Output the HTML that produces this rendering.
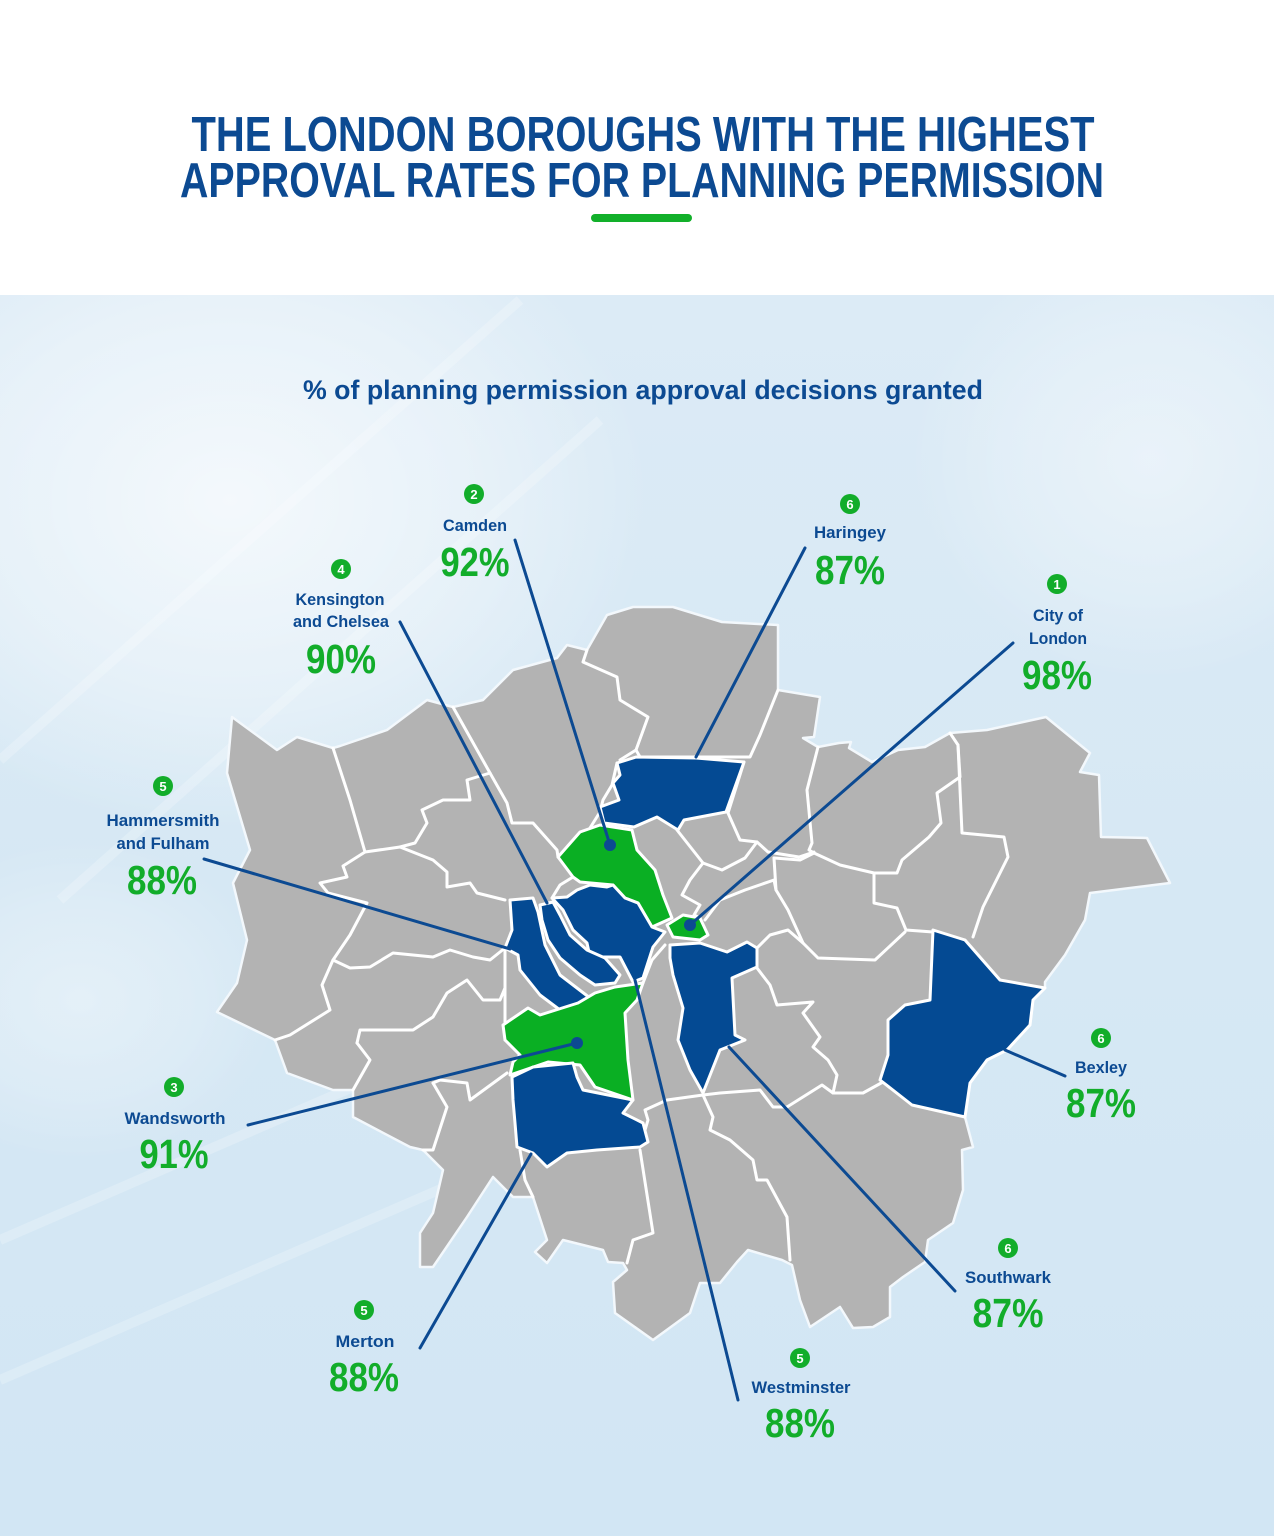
<!DOCTYPE html>
<html><head><meta charset="utf-8"><style>
html,body{margin:0;padding:0;background:#fff;}
svg{display:block;}
text{font-family:"Liberation Sans",Arial,sans-serif;font-weight:bold;}
</style></head><body>
<svg width="1274" height="1536" viewBox="0 0 1274 1536" xmlns="http://www.w3.org/2000/svg">
<defs>
<linearGradient id="bg" x1="0" y1="0" x2="0" y2="1">
<stop offset="0" stop-color="#dcebf6"/><stop offset="0.5" stop-color="#d6e8f4"/><stop offset="1" stop-color="#d2e6f4"/>
</linearGradient>
<radialGradient id="wl" cx="0.5" cy="0.5" r="0.5">
<stop offset="0" stop-color="#ffffff" stop-opacity="0.7"/><stop offset="0.6" stop-color="#ffffff" stop-opacity="0.35"/><stop offset="1" stop-color="#ffffff" stop-opacity="0"/>
</radialGradient>
</defs>
<rect x="0" y="0" width="1274" height="295" fill="#ffffff"/>
<rect x="0" y="295" width="1274" height="1241" fill="url(#bg)"/>
<ellipse cx="230" cy="500" rx="420" ry="330" fill="url(#wl)"/>
<ellipse cx="1150" cy="460" rx="240" ry="220" fill="url(#wl)" opacity="0.6"/>
<ellipse cx="80" cy="1000" rx="200" ry="160" fill="url(#wl)" opacity="0.5"/>
<g stroke="#ffffff" stroke-opacity="0.22" stroke-width="10" fill="none">
<line x1="0" y1="760" x2="520" y2="300"/>
<line x1="60" y1="900" x2="600" y2="420"/>
<line x1="0" y1="1240" x2="600" y2="980"/>
<line x1="0" y1="1380" x2="600" y2="1120"/>
</g>

<!-- Title -->
<text x="643" y="151" font-size="49" fill="#0c4a92" text-anchor="middle" textLength="903" lengthAdjust="spacingAndGlyphs">THE LONDON BOROUGHS WITH THE HIGHEST</text>
<text x="642" y="197" font-size="49" fill="#0c4a92" text-anchor="middle" textLength="924" lengthAdjust="spacingAndGlyphs">APPROVAL RATES FOR PLANNING PERMISSION</text>
<rect x="591" y="214" width="101" height="8" rx="4" fill="#12b02a"/>

<text x="643" y="399" font-size="27" fill="#0c4a92" text-anchor="middle" textLength="680" lengthAdjust="spacingAndGlyphs">% of planning permission approval decisions granted</text>

<!-- Map -->
<g stroke-linejoin="round" stroke-linecap="round">
<polygon fill="#b3b3b3" stroke="#f3f8fc" stroke-width="2.5" points="232,717 277,750 297,737 333,748 340,746 387,730 427,700 453,707 483,700 513,670 557,658 567,645 587,650 607,615 633,607 673,607 722,622 778,625 778,690 820,697 814,737 803,738 818,747 839,743 851,742 849,748 872,762 898,750 925,747 950,733 987,730 1046,717 1090,753 1080,772 1099,775 1101,837 1147,838 1170,883 1090,893 1085,920 1065,955 1045,982 1045,988 1033,1000 1030,1025 1007,1050 987,1060 970,1083 965,1117 973,1147 962,1150 963,1190 953,1223 928,1240 925,1262 903,1277 890,1287 890,1317 873,1327 853,1328 840,1307 810,1327 800,1300 792,1265 782,1260 748,1250 737,1262 720,1283 700,1283 690,1313 653,1340 615,1313 613,1282 627,1270 623,1263 608,1262 603,1250 563,1240 547,1263 535,1252 547,1240 533,1197 513,1197 493,1177 467,1217 433,1267 420,1267 420,1233 433,1213 443,1170 423,1150 410,1147 353,1117 353,1090 333,1090 287,1073 275,1040 217,1012 237,983 247,940 233,883 250,850 227,773"/>
<g fill="none" stroke="#ffffff" stroke-width="3">
<polyline points="333,748 350,800 365,852 343,866 347,877 320,883 328,893 367,903 350,935 333,960 322,985 330,1010 290,1035 275,1040"/>
<polyline points="365,852 400,847 433,860 447,872 447,887 470,883 477,893 505,900"/>
<polyline points="333,960 350,968 370,967 393,953 433,957 450,950 473,957 490,960 505,948"/>
<polyline points="453,707 490,773"/>
<polyline points="490,773 467,780 470,800 443,800 422,810 427,823 415,843 400,847"/>
<polyline points="490,773 507,803 512,823 533,823 557,850 558,857"/>
<polyline points="573,877 560,885 552,898"/>
<polyline points="587,650 583,662 617,677 620,700 648,717 636,750 620,760"/>
<polyline points="636,750 640,757 750,757 760,735 778,690"/>
<polyline points="617,763 612,785 603,800 600,812 590,828"/>
<polyline points="744,762 728,813 740,840 757,842 768,852 799,857 814,852"/>
<polyline points="818,747 807,790 812,843 809,850 814,853"/>
<polyline points="950,733 958,745 960,777 937,793 941,823 929,837 902,860 897,873 874,873"/>
<polyline points="958,745 962,833 1004,837 1008,857 983,907 973,937"/>
<polyline points="874,873 874,903 897,908 906,930 933,932"/>
<polyline points="774,858 800,860 814,853 840,865 874,873"/>
<polyline points="774,858 776,890 788,910 803,943 818,958 875,960 905,932"/>
<polyline points="677,830 703,863 690,880 682,895 700,905 694,915 700,918"/>
<polyline points="705,920 720,900 745,890 774,880 776,890"/>
<polyline points="703,863 722,870 745,858 757,842"/>
<polyline points="757,948 770,935 788,930 803,943"/>
<polyline points="757,968 770,985 777,1005 813,1002 803,1013 820,1037 813,1047 828,1060 837,1075 833,1093 822,1085 787,1107"/>
<polyline points="703,1095 720,1093 760,1090 773,1107 787,1107"/>
<polyline points="833,1093 863,1093 883,1082"/>
<polyline points="703,1095 713,1117 710,1130 730,1140 753,1160 757,1180 767,1180 787,1217 790,1260"/>
<polyline points="640,1147 648,1120 645,1110 667,1100 703,1095"/>
<polyline points="640,1150 653,1233 633,1240 627,1263"/>
<polyline points="520,1150 525,1180 533,1197"/>
<polyline points="433,1083 440,1080 467,1083 470,1100 507,1073"/>
<polyline points="433,1083 447,1107 433,1150 423,1150"/>
<polyline points="357,1043 360,1030 413,1030 433,1017 447,993 467,980 483,1000 500,1000 505,988 505,948"/>
<polyline points="357,1043 370,1060 353,1090"/>
<polyline points="505,988 505,1040"/>
<polyline points="643,983 652,960 665,945"/>
</g>
<g stroke="#ffffff" stroke-width="3">
<polygon fill="#044a93" points="617,763 636,757 696,758 744,762 726,812 684,820 678,830 657,817 634,827 604,823 600,807 619,800 613,783 620,775"/>
<polygon fill="#0aaf23" points="558,857 580,832 600,825 632,830 637,850 655,870 663,895 672,918 652,927 645,915 638,903 625,898 613,885 580,882 573,877"/>
<polygon fill="#0aaf23" points="667,925 683,915 700,918 708,935 700,940 673,937"/>
<polygon fill="#044a93" points="552,898 567,897 577,890 590,885 607,887 613,885 625,898 638,903 645,915 652,927 665,932 653,947 643,978 633,982 620,957 590,957 587,943 573,930 563,910"/>
<polygon fill="#044a93" points="540,905 553,902 560,915 570,935 587,950 605,958 620,975 615,983 595,985 580,975 560,958 548,940 542,920"/>
<polygon fill="#044a93" points="510,900 533,898 538,912 545,945 560,975 590,998 582,1013 560,1010 540,995 520,970 518,955 505,948 512,930"/>
<polygon fill="#0aaf23" points="503,1025 528,1008 540,1015 578,1003 595,993 615,987 643,983 637,1000 625,1013 628,1060 633,1100 595,1087 580,1065 548,1062 510,1075 513,1062 520,1055 505,1040"/>
<polygon fill="#044a93" points="512,1077 533,1067 573,1063 577,1077 583,1090 633,1100 623,1113 643,1123 648,1142 640,1147 597,1150 567,1153 547,1167 533,1153 517,1147 515,1123 513,1100"/>
<polygon fill="#044a93" points="670,945 700,943 727,952 747,942 757,948 757,967 732,978 735,1035 745,1040 720,1050 703,1093 690,1070 678,1040 683,1008 673,975 670,958"/>
<polygon fill="#044a93" points="933,930 965,940 1000,980 1045,988 1033,1000 1030,1025 1007,1050 987,1060 970,1083 965,1117 912,1105 880,1080 888,1055 888,1020 905,1005 930,1000"/>
</g>
</g>

<!-- Leader lines -->
<g stroke="#0c4a92" stroke-width="3" stroke-linecap="round">
<line x1="515" y1="540" x2="610" y2="845"/>
<line x1="400" y1="622" x2="547" y2="903"/>
<line x1="805" y1="548" x2="696" y2="757"/>
<line x1="1013" y1="643" x2="690" y2="925"/>
<line x1="204" y1="859" x2="510" y2="949"/>
<line x1="248" y1="1125" x2="577" y2="1043"/>
<line x1="1065" y1="1076" x2="1005" y2="1050"/>
<line x1="955" y1="1291" x2="729" y2="1047"/>
<line x1="420" y1="1348" x2="531" y2="1154"/>
<line x1="738" y1="1400" x2="635" y2="980"/>
</g>
<g fill="#0c4a92">
<circle cx="610" cy="845" r="6"/>
<circle cx="690" cy="925" r="6"/>
<circle cx="577" cy="1043" r="6"/>
</g>

<!-- Labels -->
<g fill="#12ad2a">
<circle cx="474" cy="494" r="10"/>
<circle cx="341" cy="569" r="10"/>
<circle cx="850" cy="504" r="10"/>
<circle cx="1057" cy="584" r="10"/>
<circle cx="163" cy="786" r="10"/>
<circle cx="174" cy="1087" r="10"/>
<circle cx="1101" cy="1038" r="10"/>
<circle cx="1008" cy="1248" r="10"/>
<circle cx="364" cy="1310" r="10"/>
<circle cx="800" cy="1358" r="10"/>
</g>
<g fill="#ffffff" font-size="13" text-anchor="middle">
<text x="474" y="499">2</text>
<text x="341" y="574">4</text>
<text x="850" y="509">6</text>
<text x="1057" y="589">1</text>
<text x="163" y="791">5</text>
<text x="174" y="1092">3</text>
<text x="1101" y="1043">6</text>
<text x="1008" y="1253">6</text>
<text x="364" y="1315">5</text>
<text x="800" y="1363">5</text>
</g>
<g fill="#0c4a92" font-size="17" text-anchor="middle">
<text x="475" y="531" textLength="64" lengthAdjust="spacingAndGlyphs">Camden</text>
<text x="340" y="605" textLength="89" lengthAdjust="spacingAndGlyphs">Kensington</text>
<text x="341" y="627" textLength="96" lengthAdjust="spacingAndGlyphs">and Chelsea</text>
<text x="850" y="538" textLength="72" lengthAdjust="spacingAndGlyphs">Haringey</text>
<text x="1058" y="621" textLength="50" lengthAdjust="spacingAndGlyphs">City of</text>
<text x="1058" y="644" textLength="58" lengthAdjust="spacingAndGlyphs">London</text>
<text x="163" y="826" textLength="113" lengthAdjust="spacingAndGlyphs">Hammersmith</text>
<text x="163" y="849" textLength="93" lengthAdjust="spacingAndGlyphs">and Fulham</text>
<text x="175" y="1124" textLength="101" lengthAdjust="spacingAndGlyphs">Wandsworth</text>
<text x="1101" y="1073" textLength="52" lengthAdjust="spacingAndGlyphs">Bexley</text>
<text x="1008" y="1283" textLength="86" lengthAdjust="spacingAndGlyphs">Southwark</text>
<text x="365" y="1347" textLength="59" lengthAdjust="spacingAndGlyphs">Merton</text>
<text x="801" y="1393" textLength="99" lengthAdjust="spacingAndGlyphs">Westminster</text>
</g>
<g fill="#12ad2a" font-size="41" text-anchor="middle" stroke="#d8e8f4" stroke-width="0.6" paint-order="stroke">
<text x="475" y="576" textLength="69" lengthAdjust="spacingAndGlyphs">92%</text>
<text x="341" y="673" textLength="70" lengthAdjust="spacingAndGlyphs">90%</text>
<text x="850" y="584" textLength="70" lengthAdjust="spacingAndGlyphs">87%</text>
<text x="1057" y="689" textLength="70" lengthAdjust="spacingAndGlyphs">98%</text>
<text x="162" y="894" textLength="70" lengthAdjust="spacingAndGlyphs">88%</text>
<text x="174" y="1168" textLength="69" lengthAdjust="spacingAndGlyphs">91%</text>
<text x="1101" y="1117" textLength="70" lengthAdjust="spacingAndGlyphs">87%</text>
<text x="1008" y="1327" textLength="71" lengthAdjust="spacingAndGlyphs">87%</text>
<text x="364" y="1391" textLength="70" lengthAdjust="spacingAndGlyphs">88%</text>
<text x="800" y="1437" textLength="70" lengthAdjust="spacingAndGlyphs">88%</text>
</g>
</svg>
</body></html>
